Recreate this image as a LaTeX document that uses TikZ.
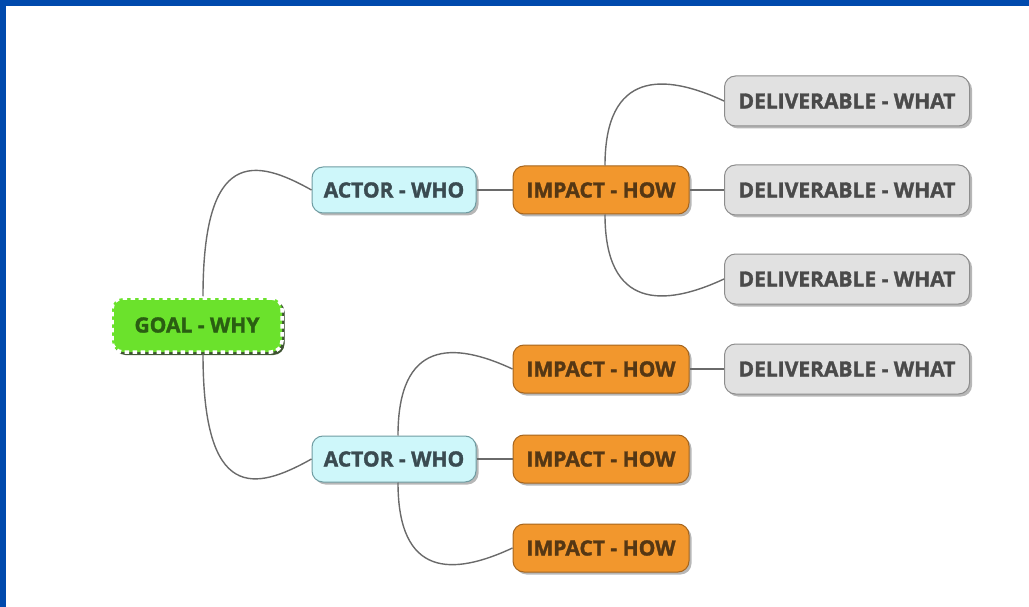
\documentclass[tikz,border=0pt]{standalone}
\usepackage{fontspec}
\setmainfont{Open Sans}[BoldFeatures={FakeBold=1.6}]
\usetikzlibrary{shadows}
\definecolor{frameblue}{HTML}{004AAD}
\definecolor{linkgray}{HTML}{6A6A6A}
\definecolor{goalfill}{HTML}{6BE22C}
\definecolor{goaltext}{HTML}{2A5E12}
\definecolor{goalshadow}{HTML}{1F3A10}
\definecolor{actorfill}{HTML}{CEF7FA}
\definecolor{actordraw}{HTML}{6F9CA2}
\definecolor{actortext}{HTML}{3A4B51}
\definecolor{impactfill}{HTML}{F2972D}
\definecolor{impactdraw}{HTML}{A5651E}
\definecolor{impacttext}{HTML}{553714}
\definecolor{delivfill}{HTML}{E1E1E1}
\definecolor{delivdraw}{HTML}{8C8C8C}
\definecolor{delivtext}{HTML}{4A4A4A}
\begin{document}
\begin{tikzpicture}[x=1pt,y=-1pt,
  box/.style={rounded corners=11pt, align=center, inner sep=0pt,
    font=\fontsize{21}{25}\selectfont\bfseries, line width=1pt,
    drop shadow={shadow xshift=2.5pt, shadow yshift=-2.5pt, opacity=0.4, fill=black!70}},
  goalbox/.style={box, minimum width=170pt, minimum height=54pt, fill=goalfill,
    draw=white, line width=3.5pt, dash pattern=on 4.5pt off 3.5pt, text=goaltext,
    drop shadow={shadow xshift=2.5pt, shadow yshift=-3pt, opacity=0.8, fill=goalshadow}},
  actorbox/.style={box, minimum width=164pt, minimum height=46pt, fill=actorfill,
    draw=actordraw, text=actortext},
  impactbox/.style={box, minimum width=176pt, minimum height=48pt, fill=impactfill,
    draw=impactdraw, text=impacttext},
  delivbox/.style={box, minimum width=245pt, minimum height=50pt, fill=delivfill,
    draw=delivdraw, text=delivtext},
  link/.style={draw=linkgray, line width=1.4pt}]
\useasboundingbox (0,0) rectangle (1029,607);
% frame bands
\fill[frameblue] (0,0) rectangle (1029,6.5);
\fill[frameblue] (0,0) rectangle (6,607);

% nodes
\node[goalbox] (goal) at (197,325) {GOAL - WHY};
\node[actorbox] (actor1) at (394,190) {ACTOR - WHO};
\node[actorbox] (actor2) at (394,459) {ACTOR - WHO};
\node[impactbox] (imp1) at (601,190) {IMPACT - HOW};
\node[impactbox] (imp2) at (601,369) {IMPACT - HOW};
\node[impactbox] (imp3) at (601,459) {IMPACT - HOW};
\node[impactbox] (imp4) at (601,548) {IMPACT - HOW};
\node[delivbox] (del1) at (847,101) {DELIVERABLE - WHAT};
\node[delivbox] (del2) at (847,190) {DELIVERABLE - WHAT};
\node[delivbox] (del3) at (847,279) {DELIVERABLE - WHAT};
\node[delivbox] (del4) at (847,369) {DELIVERABLE - WHAT};

% links
\draw[link] ([xshift=6pt]goal.north) .. controls +(0,-148) and +(-57,-32) .. (actor1.west);
\draw[link] ([xshift=6pt]goal.south) .. controls +(0,148) and +(-57,32) .. (actor2.west);
\draw[link] (actor1) -- (imp1);
\draw[link] ([xshift=4pt]imp1.north) .. controls +(0,-95) and +(-60,-28) .. (del1.west);
\draw[link] (imp1) -- (del2);
\draw[link] ([xshift=4pt]imp1.south) .. controls +(0,95) and +(-60,28) .. (del3.west);
\draw[link] ([xshift=4pt]actor2.north) .. controls +(0,-95) and +(-60,-28) .. (imp2.west);
\draw[link] (actor2) -- (imp3);
\draw[link] ([xshift=4pt]actor2.south) .. controls +(0,95) and +(-60,28) .. (imp4.west);
\draw[link] (imp2) -- (del4);
\end{tikzpicture}
\end{document}
